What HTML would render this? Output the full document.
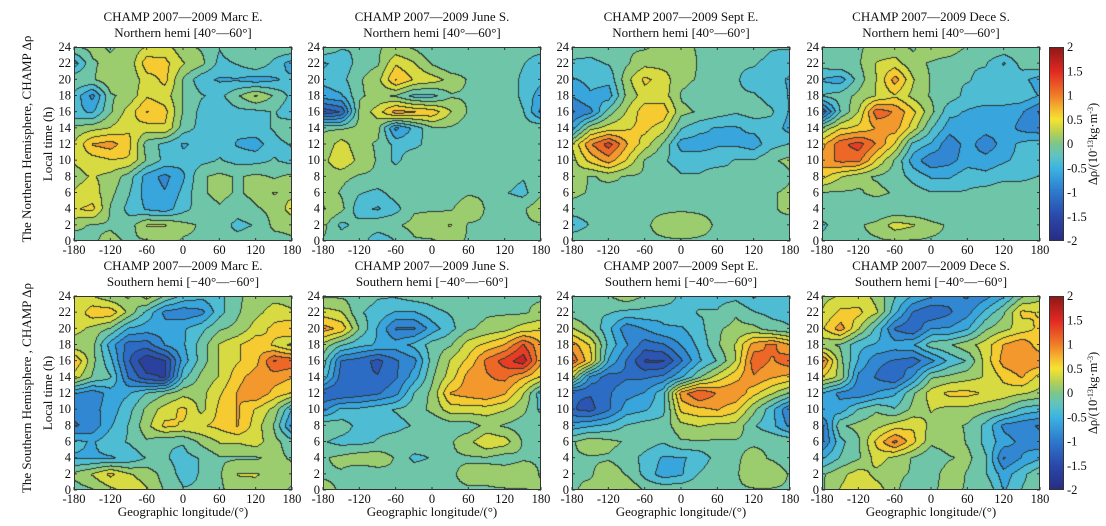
<!DOCTYPE html>
<html><head><meta charset="utf-8">
<style>
html,body{margin:0;padding:0;background:#fff;}
#root{position:relative;width:1106px;height:526px;overflow:hidden;font-family:"Liberation Serif",serif;}
canvas{position:absolute;}
svg{position:absolute;left:0;top:0;}
</style></head>
<body>
<div id="root">
<svg id="ov" width="1106" height="526"></svg>
</div>
<script>
// ---- data: rows = local time 0..24 step 2, cols = longitude -180..180 step 30 ----
const longitudes=[-180,-150,-120,-90,-60,-30,0,30,60,90,120,150,180];
const localTimes=[0,2,4,6,8,10,12,14,16,18,20,22,24];
const xTickLabels=[-180,-120,-60,0,60,120,180];
const yTickLabels=[0,2,4,6,8,10,12,14,16,18,20,22,24];
const cbTickLabels=[2,1.5,1,0.5,0,-0.5,-1,-1.5,-2];
const panelTitles=["CHAMP 2007—2009 Marc E.","CHAMP 2007—2009 June S.","CHAMP 2007—2009 Sept E.","CHAMP 2007—2009 Dece S."];
const nMar=[
[-0.1,0,0.1,0,0,0.1,0,0,-0.2,-0.1,0,-0.1,0],
[0.1,0,0,-0.1,0.3,0.3,0.1,0,-0.1,-0.3,-0.2,0.1,0.1],
[0.5,0.6,0,-0.3,-0.5,-0.6,-0.3,-0.1,0,-0.1,0,0.1,0.4],
[0.3,0.4,0.1,-0.2,-0.6,-0.7,-0.4,0,0.1,0,0.1,0.3,0.2],
[0.2,0.3,0.2,-0.1,-0.6,-0.8,-0.5,0,0.1,0,0.1,0,0.1],
[0.3,0.4,0.5,0.5,0,-0.3,-0.4,-0.3,-0.2,-0.3,-0.3,-0.2,-0.3],
[0.3,0.8,0.9,0.6,-0.1,-0.3,-0.5,-0.4,-0.3,-0.5,-0.6,-0.3,-0.2],
[0.1,0.2,0.3,0.5,0.4,0.5,-0.1,-0.3,-0.4,-0.4,-0.3,-0.2,0],
[-0.4,-0.5,0,0.4,0.8,0.6,0,-0.3,-0.4,-0.3,-0.3,-0.2,-0.4],
[-0.3,-0.8,0,0.1,0.5,0.4,0,-0.2,-0.3,0,0.3,0,-0.3],
[0,0,0.2,0.1,0.4,0.6,0,-0.4,-0.5,-0.5,-0.6,-0.5,-0.4],
[-0.6,0,0.1,0.1,0.7,0.6,0.3,0.1,-0.3,-0.2,0,-0.3,-0.6],
[0,0.1,0,0.1,0.3,0.4,0.1,0,-0.2,0,0,0,0]];
const nJun=[
[0,0,0,-0.5,-0.2,0,0,0.1,0,0,0,0,0],
[0.1,-0.3,-0.1,0,0,0.1,0.2,0.3,0,0,-0.1,0,0],
[0.3,0.1,-0.4,-0.5,-0.3,0,0,0,0.2,0,0,0,0.2],
[0.2,0,-0.2,-0.3,-0.1,0,-0.2,-0.1,0,0,-0.2,-0.3,0],
[0.2,0.1,0,0,0,0,-0.1,0,0,0,-0.1,-0.2,0],
[0.2,0.5,0.2,0,-0.3,0,-0.1,-0.2,-0.2,-0.1,-0.2,-0.1,0],
[0.1,0.4,0.1,0,-0.3,-0.3,-0.1,-0.2,-0.1,-0.1,-0.2,-0.2,0],
[0,0,0.1,0.1,-0.8,-0.4,0,0,-0.1,0,0,-0.1,0],
[-1.4,-1.2,0.1,0.4,0.9,0.8,0.7,0.3,0,0,0,-0.2,-0.8],
[-0.6,-0.5,0,0.1,0,-0.3,-0.3,0,0,0,0,-0.3,-0.6],
[-0.4,-0.3,0,0.2,0.8,0.5,0.4,0.2,0,-0.1,0,-0.3,-0.4],
[-0.5,-0.4,-0.1,0,0.5,0.3,0,-0.2,-0.1,-0.1,0,-0.2,-0.4],
[0,-0.2,-0.2,0,0.1,0,-0.2,-0.2,-0.2,-0.2,-0.2,-0.1,-0.1]];
const nSep=[
[0,0,0,0,0,0,0,0,0,0,0,0,0],
[-0.4,-0.2,0,0,0,0.1,0.2,0.1,0,0,-0.1,0,-0.1],
[-0.1,-0.1,-0.1,0,0,0,0,0,0,-0.1,-0.1,0,0.1],
[0.1,0,-0.1,0,0,0,0,-0.1,-0.1,-0.1,0,0,0.1],
[0.2,0,0.1,0,0,-0.1,-0.2,-0.2,-0.1,-0.2,-0.1,-0.2,0],
[0.2,0.6,0.9,0.5,0,-0.2,-0.3,-0.3,-0.3,-0.2,-0.2,0,0.1],
[0.3,1.0,1.4,0.8,0.4,0,-0.6,-0.6,-0.5,-0.5,-0.6,-0.3,-0.2],
[-0.6,0.2,0.4,0.5,0.6,0.4,-0.2,-0.4,-0.5,-0.5,-0.4,-0.3,-0.6],
[-1.0,-0.8,-0.1,0.3,0.7,0.7,0.1,0,-0.1,-0.2,-0.1,-0.2,-0.5],
[-0.7,-0.5,-0.6,0.1,0.4,0.4,0,-0.1,-0.2,-0.2,-0.2,-0.3,-0.5],
[-0.5,-0.4,-0.4,0.2,0.6,0.4,0.1,0,-0.1,-0.2,-0.3,-0.4,-0.5],
[-0.3,-0.3,-0.2,0,0.2,0.2,0.2,0,-0.2,-0.2,-0.2,-0.3,-0.4],
[0,-0.1,0,0,0,0.1,0.1,0,0,-0.1,-0.1,-0.2,-0.2]];
const nDec=[
[-0.1,-0.1,0,0,0,0,0,0,0,0,0,0,0],
[-0.3,0,0,0.1,0.4,0.3,0.1,0,0,-0.1,0,0,0],
[0,0,-0.1,-0.2,-0.2,-0.2,-0.2,-0.2,-0.1,-0.2,-0.2,-0.1,0],
[0,0,0,0.1,0,-0.1,-0.2,-0.2,-0.2,-0.1,0,0,0],
[0.6,0.3,0.1,0,-0.1,-0.3,-0.5,-0.5,-0.3,-0.4,-0.3,-0.3,-0.2],
[0.9,1.1,1.1,0.5,0,-0.6,-0.9,-0.8,-0.6,-0.6,-0.5,-0.4,-0.4],
[0.7,1.2,1.4,1.0,0.5,-0.3,-0.5,-0.9,-0.6,-0.9,-0.6,-0.4,-0.3],
[0.1,0.5,0.6,0.8,0.9,0.4,-0.2,-0.6,-0.5,-0.6,-0.6,-0.8,-0.9],
[-1.2,-0.2,0.3,1.2,1.0,0.6,0.1,-0.4,-0.5,-0.6,-0.6,-0.7,-1.0],
[-0.2,-0.1,0.1,0.3,0.5,0.2,0,-0.1,-0.3,-0.3,-0.3,-0.3,-0.5],
[-0.5,-0.6,-0.1,0.3,0.9,0.3,0,-0.2,-0.2,-0.3,-0.3,-0.4,-0.6],
[-0.1,0,0,0.3,0.4,0.1,0,-0.1,-0.2,-0.2,-0.5,-0.1,0],
[0,0,0,0.1,0.1,0,0.2,0.2,0,0,0,0,0]];
const sMar=[
[-0.1,0,0.2,0.4,0.3,0,-0.2,-0.2,0,0.1,0.2,0.1,0],
[0.1,0.3,0.6,0.3,0.2,-0.1,-0.3,-0.2,0,0.3,0.3,0.2,0.1],
[-0.5,-0.5,-0.5,-0.4,-0.2,-0.2,-0.3,-0.2,0,0,0,0.1,0],
[-0.4,-0.5,-0.3,-0.2,0,-0.2,-0.2,0.1,0.3,0.3,0.4,0.1,-0.1],
[-1.0,-0.9,-0.5,-0.2,0.2,0.6,0.5,0.5,0.6,0.8,0.4,0,-0.8],
[-0.9,-0.8,-0.6,-0.3,0.1,0.4,0.6,0.2,0.6,0.8,0.5,0.2,-0.5],
[-0.7,-0.9,-0.6,-0.5,-0.2,0,0.2,0.2,0.5,0.8,1.0,0.7,0.5],
[0.4,0.0,-0.2,-1.0,-1.4,-1.5,-0.3,0.1,0.3,0.7,0.9,0.9,0.8],
[0.8,0.1,-0.4,-1.2,-1.7,-1.5,-0.6,-0.1,0.3,0.5,0.7,1.3,1.2],
[0.1,0.1,-0.6,-1.1,-1.1,-0.7,-0.5,-0.1,0.3,0.5,0.7,0.5,0.2],
[0.4,0.2,0,-0.5,-0.6,-0.6,-0.5,-0.3,0,0.1,0.4,0.6,0.8],
[0.3,0.7,0.7,0.2,-0.3,-0.8,-0.9,-0.8,-0.3,0,0.2,0.4,0.3],
[0.3,0.3,0.1,0,0.4,0,-0.3,-0.4,-0.3,0,0.1,0.2,0.2]];
const sJun=[
[0.1,0,0,0,0,0,0,0,0,0,0,0,0.1],
[0,0,-0.2,-0.1,0,0,0,0,0.1,0.1,0.2,0.2,0],
[0,0.1,0.2,0.2,0,-0.3,-0.2,0,0,0,-0.1,0,0],
[-0.2,-0.3,-0.3,-0.2,-0.1,0,-0.1,0,0.2,0.5,0.4,0,0],
[0,-0.1,-0.3,-0.3,-0.3,-0.2,-0.2,-0.1,-0.1,0.1,0,-0.1,0],
[-0.8,-0.4,-0.4,-0.3,-0.2,-0.1,0.1,0.4,0.4,0.4,0.3,0.1,-0.3],
[-1.2,-1.2,-1.1,-1.0,-0.8,-0.2,0.1,0.8,0.9,1.0,0.8,0.3,-0.4],
[-0.3,-1.1,-1.2,-1.2,-1.0,-0.6,0,0.4,0.9,1.0,1.1,0.8,0.5],
[-0.1,-1.0,-1.1,-1.3,-1.0,-0.8,-0.1,0.3,0.6,1.1,1.4,1.7,0.8],
[0.2,-0.2,-0.4,-0.5,-0.6,-0.4,-0.1,0,0.4,0.6,0.8,1.3,0.8],
[0.9,0.7,0,-0.5,-1.0,-1.0,-0.6,-0.3,0,0.1,0.2,0.4,0.5],
[0.4,0.3,-0.2,-0.3,-0.5,-0.5,-0.3,-0.2,-0.1,0,0,0,0.1],
[0,0,-0.1,-0.2,-0.2,-0.1,-0.1,0,0,0,0,0,0]];
const sSep=[
[0,0.1,0.2,0.3,0,0,0,0,0,0,0,0,0],
[0,0,0.2,0,-0.3,-0.6,-0.5,-0.2,0,0,0.2,0.2,0],
[0,0,0,-0.1,-0.3,-0.5,-0.5,-0.4,-0.1,0,0.1,0,-0.1],
[0,0.2,0.1,0,-0.1,-0.2,0,0,0,0,0,0,0],
[-0.6,-0.5,-0.4,-0.2,-0.1,-0.1,0.2,0.3,0.2,0.2,-0.2,-0.4,-0.8],
[-1.2,-1.3,-1.0,-0.6,-0.5,-0.3,0.6,0.7,0.8,0.6,0.1,-0.4,-1.0],
[-1.2,-1.2,-1.0,-0.8,-0.7,-0.3,0.9,1.3,1.0,1.0,0.6,0.3,0],
[0.3,-0.8,-1.1,-1.0,-1.0,-0.9,-0.5,0,0.4,0.7,1.0,0.8,0.7],
[1.2,0.6,-0.5,-1.0,-1.5,-1.5,-1.0,-0.5,-0.2,0.3,1.2,1.0,1.2],
[0.9,0.5,-0.3,-0.7,-1.1,-1.0,-0.7,-0.4,0,0.3,0.9,1.1,0.8],
[0.3,0,-0.4,-0.9,-0.7,-0.5,-0.5,-0.3,0,0.1,0.1,-0.1,-0.2],
[-0.1,-0.2,-0.2,-0.3,-0.3,-0.4,-0.3,-0.2,-0.2,0,-0.2,-0.3,-0.3],
[0,0,0,0.2,0,0,-0.3,-0.3,-0.3,-0.3,-0.5,-0.3,-0.3]];
const sDec=[
[0,0.3,0.5,0.4,0.1,-0.2,0,0.1,0,0,-0.5,-0.2,0],
[0,0.2,0.4,0.2,0.1,0,-0.1,0.2,0,-0.2,-0.6,-0.3,0],
[-0.5,-0.2,0,0.4,0.2,0,-0.2,0,0.1,-0.2,-1.0,-0.7,-0.5],
[-1.0,-0.3,0,0.6,1.1,0.6,0.1,0.2,0,-0.3,-0.6,-0.8,-0.9],
[-1.0,0,0.1,0.2,0.4,0.5,0.2,0.1,0,-0.3,-0.8,-0.9,-1.0],
[-0.5,-0.6,-0.2,0,-0.2,0.1,0.3,0.2,0.2,0.1,0,-0.3,-0.4],
[-0.5,-0.8,-0.9,-0.7,-0.5,0,0.4,0.6,0.6,0.5,0.4,0.3,0.2],
[0.5,0.2,-0.8,-1.0,-1.2,-0.7,0,0.1,0.2,0.3,0.6,0.8,0.4],
[1.1,0.1,-0.5,-0.9,-1.0,-1.1,-0.8,-0.4,-0.2,0.4,0.9,1.0,1.0],
[0.1,0,-0.4,-0.5,-0.6,-0.5,-0.1,0,0.2,0.4,0.8,1.0,0.6],
[0.5,0.9,0.3,-0.3,-1.0,-1.2,-0.7,-0.7,-0.5,0,0.2,0.4,0.6],
[0.3,0.6,0.6,0.3,-0.4,-1.0,-1.2,-1.0,-0.8,-0.4,0,0.6,0.5],
[0.2,0.3,0.4,0.2,-0.2,-0.5,-0.7,-0.9,-1.0,-0.8,-0.5,0,0.2]];

const panelXs=[74,323,572,822], rowYs=[47,296], PW=218, PH=194;
const grids=[[nMar,nJun,nSep,nDec],[sMar,sJun,sSep,sDec]];
const stops=[[-2,[40,44,130]],[-1.5,[42,72,170]],[-1,[45,120,205]],[-0.5,[60,180,225]],[-0.25,[95,195,195]],[0,[125,198,140]],[0.25,[185,210,80]],[0.5,[245,228,50]],[0.75,[246,178,48]],[1,[240,125,40]],[1.5,[226,40,34]],[2,[140,24,24]]];
function cmap(v){v=Math.max(-2,Math.min(2,v));for(let i=1;i<stops.length;i++){if(v<=stops[i][0]){const a=stops[i-1],b=stops[i],t=(v-a[0])/(b[0]-a[0]);return a[1].map((c,k)=>Math.round(c+(b[1][k]-c)*t));}}return stops[stops.length-1][1];}
function xScale(lon){return (lon+180)/360*PW;}
function yScale(lt){return PH*(1-lt/24);}
function sample(g,lon,lt){
  const fx=(lon-longitudes[0])/(longitudes[1]-longitudes[0]), fy=(lt-localTimes[0])/(localTimes[1]-localTimes[0]);
  const i=Math.min(longitudes.length-2,Math.max(0,Math.floor(fx))), j=Math.min(localTimes.length-2,Math.max(0,Math.floor(fy)));
  const tx=fx-i, ty=fy-j;
  return (g[j][i]*(1-tx)+g[j][i+1]*tx)*(1-ty)+(g[j+1][i]*(1-tx)+g[j+1][i+1]*tx)*ty;
}
const root=document.getElementById('root');
function drawPanel(g,x0,y0,name){
  const c=document.createElement('canvas');c.width=PW;c.height=PH;c.style.left=x0+'px';c.style.top=y0+'px';
  
  
  root.insertBefore(c,document.getElementById('ov'));
  const ctx=c.getContext('2d');const im=ctx.createImageData(PW,PH);
  const band=new Int16Array(PW*PH);
  for(let y=0;y<PH;y++)for(let x=0;x<PW;x++){
    const lon=-180+(x+0.5)/PW*360, lt=24*(1-(y+0.5)/PH);
    band[y*PW+x]=Math.floor((sample(g,lon,lt)-0.03)/0.25);
  }
  for(let y=0;y<PH;y++)for(let x=0;x<PW;x++){
    const b=band[y*PW+x];let col=cmap((b+0.5)*0.25);
    if((x>0&&band[y*PW+x-1]!==b)||(y>0&&band[(y-1)*PW+x]!==b))col=[45,55,50];
    const k=(y*PW+x)*4;im.data[k]=col[0];im.data[k+1]=col[1];im.data[k+2]=col[2];im.data[k+3]=255;
  }
  ctx.putImageData(im,0,0);
}
const seasons=['mar','jun','sep','dec'];
for(let r=0;r<2;r++)for(let p=0;p<4;p++)drawPanel(grids[r][p],panelXs[p],rowYs[r],(r?'south':'north')+'-'+seasons[p]+'-contour');
for(let r=0;r<2;r++){
  const c=document.createElement('canvas');c.width=15;c.height=PH;c.style.left='1049px';c.style.top=rowYs[r]+'px';
  
  
  root.insertBefore(c,document.getElementById('ov'));
  const ctx=c.getContext('2d');
  for(let y=0;y<PH;y++){const col=cmap(2-4*(y+0.5)/PH);ctx.fillStyle=`rgb(${col})`;ctx.fillRect(0,y,15,1);}
}
const NS='http://www.w3.org/2000/svg',ov=document.getElementById('ov');
function el(tag,attrs,txt){const e=document.createElementNS(NS,tag);for(const k in attrs)e.setAttribute(k,attrs[k]);if(txt!==undefined)e.textContent=txt;ov.appendChild(e);return e;}
for(let r=0;r<2;r++)for(let p=0;p<4;p++){
  const x0=panelXs[p],y0=rowYs[r];
  const fr=el('rect',{x:x0+0.5,y:y0+0.5,width:PW-1,height:PH-1,fill:'none',stroke:'#333','stroke-width':1});
  
  
  const t1=el('text',{x:x0+PW/2,y:y0-26,'font-size':13,'text-anchor':'middle',fill:'#111'},panelTitles[p]);
  
  
  const t2=el('text',{x:x0+PW/2,y:y0-10,'font-size':13,'text-anchor':'middle',fill:'#111'},r?'Southern hemi [−40°—−60°]':'Northern hemi [40°—60°]');
  
  
  yTickLabels.forEach(v=>{const y=y0+yScale(v);
    el('line',{x1:x0,x2:x0+3,y1:y,y2:y,stroke:'#333'});el('line',{x1:x0+PW-3,x2:x0+PW,y1:y,y2:y,stroke:'#333'});
    const t=el('text',{x:x0-3,y:y+4,'font-size':12.5,'text-anchor':'end',fill:'#111'},v);
    
    });
  xTickLabels.forEach(v=>{const x=x0+xScale(v);
    el('line',{x1:x,x2:x,y1:y0+PH,y2:y0+PH-3,stroke:'#333'});el('line',{x1:x,x2:x,y1:y0,y2:y0+3,stroke:'#333'});
    const t=el('text',{x:x,y:y0+PH+13,'font-size':12.5,'text-anchor':'middle',fill:'#111'},v);
    
    });
  if(r===1){const t=el('text',{x:x0+PW/2,y:y0+PH+26,'font-size':13,'text-anchor':'middle',fill:'#111'},'Geographic longitude/(°)');
    
    }
}
for(let r=0;r<2;r++){
  const y0=rowYs[r];
  el('rect',{x:1049.5,y:y0+0.5,width:14,height:PH-1,fill:'none',stroke:'#333'});
  cbTickLabels.forEach((v,i)=>{const y=y0+i*PH/8;
    const t=el('text',{x:1067,y:y+4,'font-size':12.5,fill:'#111'},v);
    
    });
  const cy=y0+PH/2;
  const ct=el('text',{x:1097,y:cy,'font-size':12.5,'text-anchor':'middle',fill:'#111',transform:`rotate(-90 1097 ${cy})`});
  
  
  ct.innerHTML='Δρ/(10<tspan dy="-4" font-size="8">-13</tspan><tspan dy="4">kg·m</tspan><tspan dy="-4" font-size="8">-3</tspan><tspan dy="4">)</tspan>';
  const ly=el('text',{x:52,y:cy,'font-size':13,'text-anchor':'middle',fill:'#111',transform:`rotate(-90 52 ${cy})`},'Local time (h)');
  
  
  const hy=el('text',{x:31,y:cy-5,'font-size':13,'text-anchor':'middle',fill:'#111',transform:`rotate(-90 31 ${cy-5})`},r?'The Southern Hemisphere ,  CHAMP Δρ':'The Northern Hemisphere,  CHAMP Δρ');
  
  
}
</script>
</body></html>
